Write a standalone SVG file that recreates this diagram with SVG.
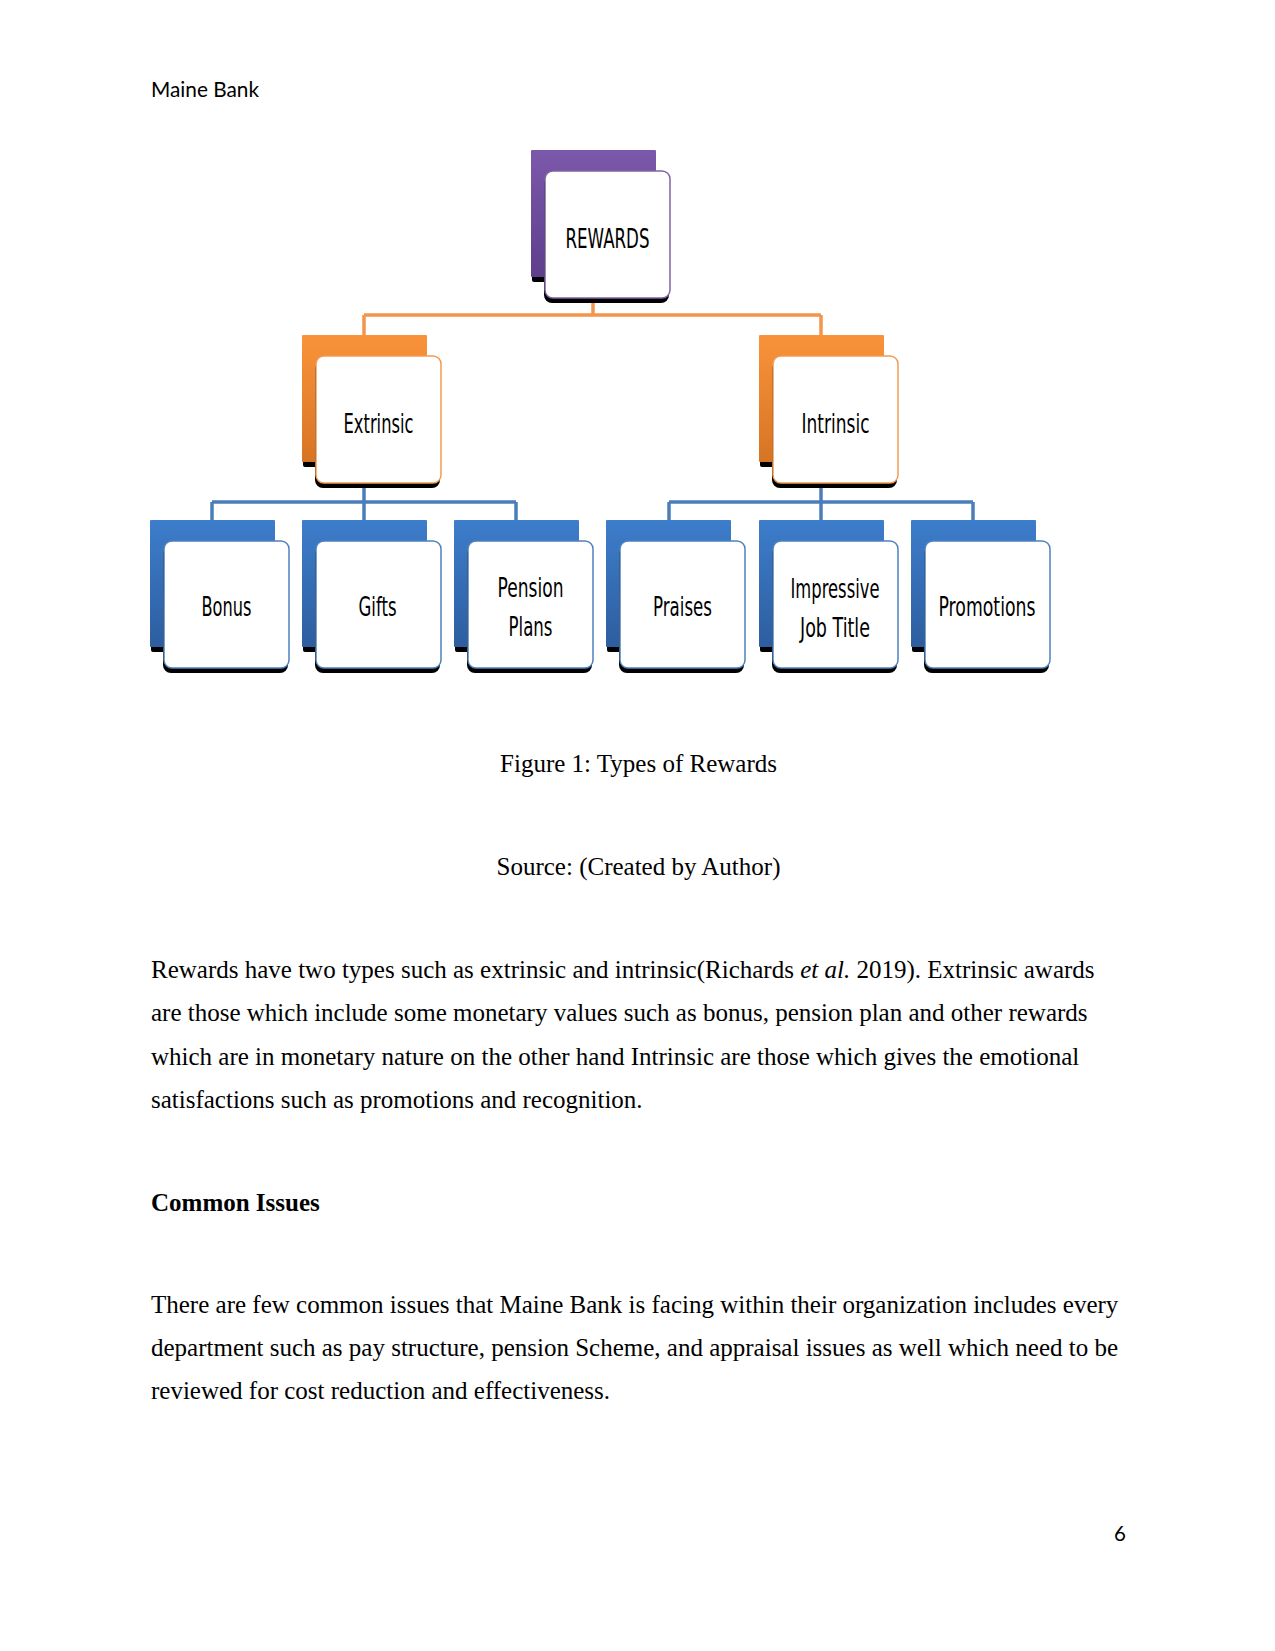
<svg xmlns="http://www.w3.org/2000/svg" width="1275" height="1651" viewBox="0 0 1275 1651">
<style>
.body{font-family:"Liberation Serif","Times New Roman",serif;font-size:25px;fill:#000}
.hdr{font-family:Lato,"Open Sans",sans-serif;font-size:20.5px;fill:#000}
.lbl{font-family:"DejaVu Sans",Verdana,sans-serif;font-size:27px;fill:#000;text-anchor:middle}
.conO{stroke:#f3954a;stroke-width:3.5;fill:none}
.conB{stroke:#4a7ebb;stroke-width:3.5;fill:none}
.sh{fill:#000}
.fr{fill:#fff;stroke-width:1.5}
.fP{stroke:#7f64a1}
.fO{stroke:#f39a52}
.fB{stroke:#4f81bd}
</style>
<defs>
<linearGradient id="gP" x1="0" y1="0" x2="0" y2="1"><stop offset="0" stop-color="#7c58aa"/><stop offset="1" stop-color="#5e3f8c"/></linearGradient>
<linearGradient id="gO" x1="0" y1="0" x2="0" y2="1"><stop offset="0" stop-color="#f9933a"/><stop offset="1" stop-color="#d77424"/></linearGradient>
<linearGradient id="gB" x1="0" y1="0" x2="0" y2="1"><stop offset="0" stop-color="#3d7dcb"/><stop offset="1" stop-color="#2d5e9f"/></linearGradient>
</defs>
<rect width="1275" height="1651" fill="#fff"/>

<text class="hdr" x="151" y="97" textLength="108" lengthAdjust="spacingAndGlyphs">Maine Bank</text>

<g id="connectors">
<path class="conO" d="M593,290 V315 M364,315 H821 M364,315 V340 M821,315 V340"/>
<path class="conB" d="M364,480 V502 M212,502 H516 M212,502 V525 M364,502 V525 M516,502 V525"/>
<path class="conB" d="M821,480 V502 M669,502 H973 M669,502 V525 M821,502 V525 M973,502 V525"/>
</g>

<g id="node-rewards">
<rect class="sh" x="532" y="155" width="122" height="127" rx="2"/>
<rect x="531" y="150" width="125" height="127" rx="1" fill="url(#gP)"/>
<rect class="sh" x="544" y="176" width="125" height="127" rx="8"/>
<rect class="fr fP" x="545" y="171" width="125" height="127" rx="8"/>
<text class="lbl" x="607.5" y="248" textLength="84" lengthAdjust="spacingAndGlyphs">REWARDS</text>
</g>

<g id="node-extrinsic">
<rect class="sh" x="303" y="340" width="122" height="127" rx="2"/>
<rect x="302" y="335" width="125" height="127" rx="1" fill="url(#gO)"/>
<rect class="sh" x="315" y="361" width="125" height="127" rx="8"/>
<rect class="fr fO" x="316" y="356" width="125" height="127" rx="8"/>
<text class="lbl" x="378.5" y="433" textLength="70" lengthAdjust="spacingAndGlyphs">Extrinsic</text>
</g>

<g id="node-intrinsic">
<rect class="sh" x="760" y="340" width="122" height="127" rx="2"/>
<rect x="759" y="335" width="125" height="127" rx="1" fill="url(#gO)"/>
<rect class="sh" x="772" y="361" width="125" height="127" rx="8"/>
<rect class="fr fO" x="773" y="356" width="125" height="127" rx="8"/>
<text class="lbl" x="835.5" y="433" textLength="68" lengthAdjust="spacingAndGlyphs">Intrinsic</text>
</g>

<g id="node-bonus">
<rect class="sh" x="151" y="525" width="122" height="127" rx="2"/>
<rect x="150" y="520" width="125" height="127" rx="1" fill="url(#gB)"/>
<rect class="sh" x="163" y="546" width="125" height="127" rx="8"/>
<rect class="fr fB" x="164" y="541" width="125" height="127" rx="8"/>
<text class="lbl" x="226.5" y="616" textLength="50" lengthAdjust="spacingAndGlyphs">Bonus</text>
</g>

<g id="node-gifts">
<rect class="sh" x="303" y="525" width="122" height="127" rx="2"/>
<rect x="302" y="520" width="125" height="127" rx="1" fill="url(#gB)"/>
<rect class="sh" x="315" y="546" width="125" height="127" rx="8"/>
<rect class="fr fB" x="316" y="541" width="125" height="127" rx="8"/>
<text class="lbl" x="377.5" y="616" textLength="38" lengthAdjust="spacingAndGlyphs">Gifts</text>
</g>

<g id="node-pension">
<rect class="sh" x="455" y="525" width="122" height="127" rx="2"/>
<rect x="454" y="520" width="125" height="127" rx="1" fill="url(#gB)"/>
<rect class="sh" x="467" y="546" width="125" height="127" rx="8"/>
<rect class="fr fB" x="468" y="541" width="125" height="127" rx="8"/>
<text class="lbl" x="530.5" y="597" textLength="66" lengthAdjust="spacingAndGlyphs">Pension</text>
<text class="lbl" x="530.5" y="636" textLength="44" lengthAdjust="spacingAndGlyphs">Plans</text>
</g>

<g id="node-praises">
<rect class="sh" x="607" y="525" width="122" height="127" rx="2"/>
<rect x="606" y="520" width="125" height="127" rx="1" fill="url(#gB)"/>
<rect class="sh" x="619" y="546" width="125" height="127" rx="8"/>
<rect class="fr fB" x="620" y="541" width="125" height="127" rx="8"/>
<text class="lbl" x="682.5" y="616" textLength="59" lengthAdjust="spacingAndGlyphs">Praises</text>
</g>

<g id="node-jobtitle">
<rect class="sh" x="760" y="525" width="122" height="127" rx="2"/>
<rect x="759" y="520" width="125" height="127" rx="1" fill="url(#gB)"/>
<rect class="sh" x="772" y="546" width="125" height="127" rx="8"/>
<rect class="fr fB" x="773" y="541" width="125" height="127" rx="8"/>
<text class="lbl" x="835" y="598" textLength="89" lengthAdjust="spacingAndGlyphs">Impressive</text>
<text class="lbl" x="835" y="637" textLength="70" lengthAdjust="spacingAndGlyphs">Job Title</text>
</g>

<g id="node-promotions">
<rect class="sh" x="912" y="525" width="122" height="127" rx="2"/>
<rect x="911" y="520" width="125" height="127" rx="1" fill="url(#gB)"/>
<rect class="sh" x="924" y="546" width="125" height="127" rx="8"/>
<rect class="fr fB" x="925" y="541" width="125" height="127" rx="8"/>
<text class="lbl" x="987" y="616" textLength="97" lengthAdjust="spacingAndGlyphs">Promotions</text>
</g>

<text class="body" x="638.5" y="772" text-anchor="middle">Figure 1: Types of Rewards</text>
<text class="body" x="638.5" y="875" text-anchor="middle">Source: (Created by Author)</text>

<text class="body" x="151" y="978">Rewards have two types such as extrinsic and intrinsic(Richards <tspan font-style="italic">et al.</tspan> 2019). Extrinsic awards</text>
<text class="body" x="151" y="1021">are those which include some monetary values such as bonus, pension plan and other rewards</text>
<text class="body" x="151" y="1065">which are in monetary nature on the other hand Intrinsic are those which gives the emotional</text>
<text class="body" x="151" y="1108">satisfactions such as promotions and recognition.</text>

<text class="body" x="151" y="1211" font-weight="bold">Common Issues</text>

<text class="body" x="151" y="1313">There are few common issues that Maine Bank is facing within their organization includes every</text>
<text class="body" x="151" y="1356">department such as pay structure, pension Scheme, and appraisal issues as well which need to be</text>
<text class="body" x="151" y="1399">reviewed for cost reduction and effectiveness.</text>

<text class="hdr" x="1114" y="1541">6</text>
</svg>
